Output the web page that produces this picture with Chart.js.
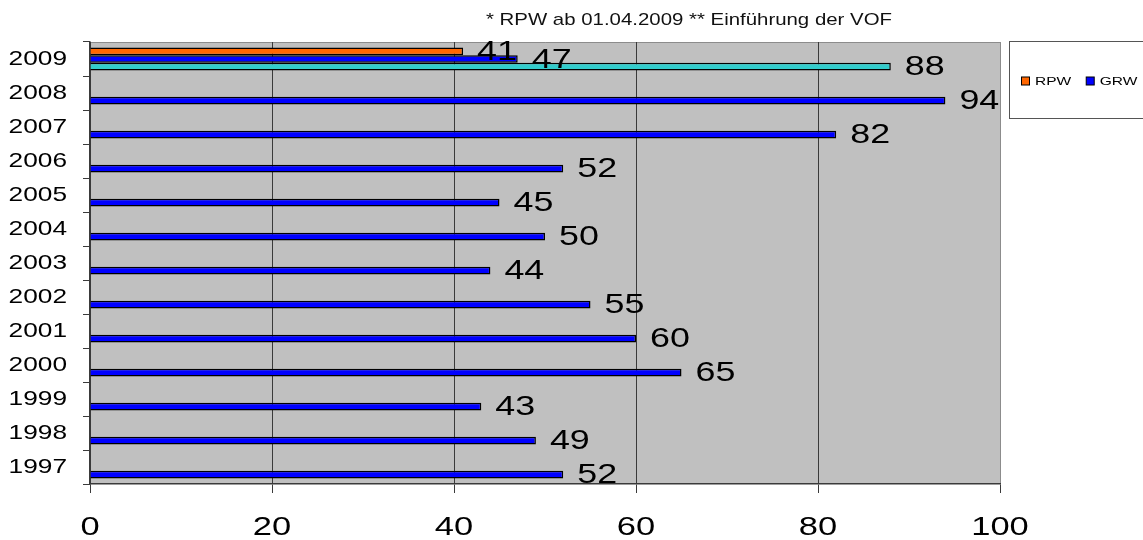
<!DOCTYPE html>
<html>
<head>
<meta charset="utf-8">
<script src="https://cdn.jsdelivr.net/npm/chart.js@4/dist/chart.umd.min.js"></script>
<style>
  html, body { margin: 0; padding: 0; background: #ffffff; }
  #wrap { position: relative; width: 1143px; height: 540px; }
</style>
</head>
<body>
<div id="wrap"><canvas id="c" width="1143" height="540"></canvas></div>
<script>
// ---- data ----
const years = ['1997','1998','1999','2000','2001','2002','2003','2004','2005','2006','2007','2008','2009'];
const rpwValues = [null,null,null,null,null,null,null,null,null,null,null,null,41];
const grwValues = [null,null,null,null,null,null,null,null,null,null,null,null,47];
const totalValues = [52,49,43,65,60,55,44,50,45,52,82,94,88];
const xTicks = [0,20,40,60,80,100];
const titleText = '* RPW ab 01.04.2009 ** Einführung der VOF';
const seriesNames = ['RPW','GRW','Gesamt'];

const FONT = '"Liberation Sans", Arial, sans-serif';

// draw the scale's own label items with a horizontal stretch (the original text is wide)
function patchStretch(scale, sx) {
  if (!scale || scale._stPatched) return;
  scale.drawLabels = function (area) {
    const ctx = this.ctx;
    const items = this.getLabelItems(area);
    for (const item of items) {
      const o = item.options;
      ctx.save();
      ctx.translate(o.translation[0], o.translation[1]);
      if (o.rotation) ctx.rotate(o.rotation);
      ctx.scale(sx, 1);
      ctx.font = item.font.string;
      ctx.fillStyle = o.color;
      ctx.textAlign = o.textAlign;
      ctx.textBaseline = o.textBaseline;
      const lbl = Array.isArray(item.label) ? item.label.join(' ') : String(item.label);
      ctx.fillText(lbl, 0, item.textOffset);
      ctx.restore();
    }
  };
  scale._stPatched = true;
}

function stretchedText(ctx, text, x, y, sx) {
  ctx.save();
  ctx.translate(x, y);
  ctx.scale(sx, 1);
  ctx.fillText(text, 0, 0);
  ctx.restore();
}

const deco = {
  id: 'deco',
  afterUpdate(chart) {
    patchStretch(chart.scales.x, 1.38);
    patchStretch(chart.scales.y, 1.25);
  },
  beforeDraw(chart) {
    const {ctx, chartArea: a} = chart;
    ctx.save();
    ctx.fillStyle = '#c0c0c0';
    ctx.fillRect(a.left, a.top, a.right - a.left, a.bottom - a.top);
    ctx.strokeStyle = '#8c8c8c';
    ctx.lineWidth = 1;
    ctx.beginPath();
    ctx.moveTo(a.left, a.top + 0.5);
    ctx.lineTo(a.right + 0.5, a.top + 0.5);
    ctx.lineTo(a.right + 0.5, a.bottom);
    ctx.stroke();
    ctx.restore();
  },
  afterDatasetsDraw(chart) {
    const ctx = chart.ctx;
    ctx.save();
    ctx.font = '28px ' + FONT;
    ctx.fillStyle = '#000';
    ctx.textAlign = 'left';
    ctx.textBaseline = 'middle';
    chart.data.datasets.forEach((ds, di) => {
      const meta = chart.getDatasetMeta(di);
      meta.data.forEach((el, i) => {
        const v = ds.data[i];
        if (v === null || v === undefined) return;
        stretchedText(ctx, String(v), el.x + 14, el.y + 1, 1.28);
      });
    });
    ctx.restore();
  },
  afterDraw(chart) {
    const ctx = chart.ctx;
    ctx.save();
    // title
    ctx.font = '17px ' + FONT;
    ctx.fillStyle = '#111';
    ctx.textAlign = 'left';
    ctx.textBaseline = 'middle';
    stretchedText(ctx, titleText, 486, 20, 1.2);
    // legend box
    ctx.strokeStyle = '#555';
    ctx.lineWidth = 1;
    ctx.strokeRect(1009.5, 41.5, 200, 77);
    ctx.font = '11.5px ' + FONT;
    let x = 1021.5;
    const y = 81;
    const colors = [chart.data.datasets[0].backgroundColor, chart.data.datasets[1].backgroundColor];
    for (let k = 0; k < 2; k++) {
      ctx.fillStyle = colors[k];
      ctx.fillRect(x, y - 4, 8, 8);
      ctx.strokeStyle = '#000';
      ctx.strokeRect(x, y - 4, 8, 8);
      ctx.fillStyle = '#000';
      const label = chart.data.datasets[k].label;
      stretchedText(ctx, label, x + 13.5, y + 0.5, 1.35);
      x += 13.5 + ctx.measureText(label).width * 1.35 + 15;
    }
    ctx.restore();
  }
};

new Chart(document.getElementById('c'), {
  type: 'bar',
  data: {
    labels: years,
    datasets: [
      { label: seriesNames[0], data: rpwValues, backgroundColor: '#ff6600' },
      { label: seriesNames[1], data: grwValues, backgroundColor: '#0000ff' },
      { label: seriesNames[2], data: totalValues,
        backgroundColor: (c) => (c.dataIndex === years.length - 1 ? '#33cccc' : '#0000ff') }
    ]
  },
  options: {
    indexAxis: 'y',
    responsive: false,
    animation: false,
    devicePixelRatio: 1,
    datasets: {
      bar: { categoryPercentage: 0.675, barPercentage: 1.0, borderColor: '#000', borderWidth: 1.5 }
    },
    layout: { padding: { left: 0, top: 42, right: 143, bottom: 0 } },
    plugins: { legend: { display: false }, title: { display: false }, tooltip: { enabled: false } },
    scales: {
      x: {
        type: 'linear', min: 0, max: 100,
        afterBuildTicks: (s) => { s.ticks = xTicks.map(v => ({ value: v })); },
        afterFit: (s) => { s.height = 56; },
        grid: {
          color: (c) => (c.tick && c.tick.value === 100 ? '#8c8c8c' : '#3a3a3a'),
          tickColor: '#3a3a3a', tickLength: 9, lineWidth: 1
        },
        border: { color: '#3a3a3a', width: 1.5 },
        ticks: { color: '#000', font: { family: FONT, size: 25 }, padding: 20, maxRotation: 0 }
      },
      y: {
        reverse: true,
        afterFit: (s) => { s.width = 90; },
        grid: { drawOnChartArea: false, color: '#3a3a3a', tickLength: 7, offset: true },
        border: { color: '#3a3a3a', width: 1.5 },
        ticks: { color: '#000', font: { family: FONT, size: 21 }, padding: 16 }
      }
    }
  },
  plugins: [deco]
});
</script>
</body>
</html>
